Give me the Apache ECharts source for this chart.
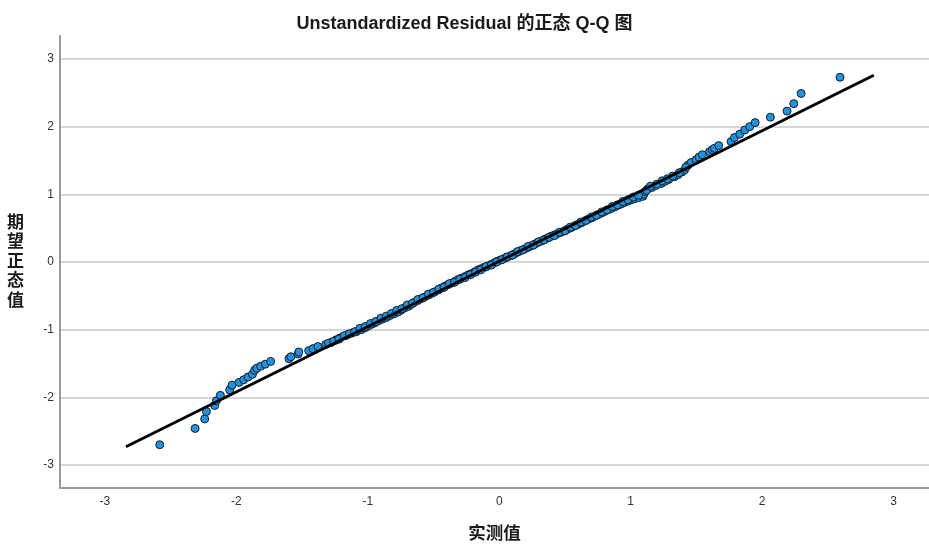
<!DOCTYPE html>
<html lang="zh">
<head>
  <meta charset="UTF-8" />
  <title>Unstandardized Residual 的正态 Q-Q 图</title>
  <script src="https://cdn.jsdelivr.net/npm/echarts@6.0.0/dist/echarts.min.js"></script>
  <style>
    html, body { margin: 0; padding: 0; background: #fff; }
    #chart { width: 929px; height: 545px; }
  </style>
</head>
<body>
  <div id="chart"></div>
  <script>
    // 观测值（实测值）与期望正态值，按排序读出
    const observed = [
      -2.583, -2.314, -2.241, -2.228, -2.165, -2.152, -2.122, -2.051, -2.033, -1.98,
      -1.944, -1.911, -1.878, -1.861, -1.845, -1.815, -1.78, -1.739, -1.60, -1.585,
      -1.531, -1.525, -1.45, -1.417, -1.379, -1.32, -1.28, -1.24, -1.21, -1.17,
      -1.15, -1.12, -1.087, -1.05, -1.024, -1.00, -0.97, -0.948, -0.92, -0.89,
      -0.859, -0.83, -0.80, -0.77, -0.745, -0.72, -0.69, -0.669, -0.65, -0.62,
      -0.60, -0.57, -0.54, -0.515, -0.49, -0.46, -0.44, -0.416, -0.39, -0.36,
      -0.335, -0.314, -0.29, -0.26, -0.235, -0.21, -0.185, -0.162, -0.14, -0.115,
      -0.09, -0.06, -0.036, -0.015, 0.01, 0.035, 0.06, 0.091, 0.115, 0.14,
      0.165, 0.19, 0.218, 0.245, 0.27, 0.295, 0.32, 0.345, 0.37, 0.395,
      0.42, 0.445, 0.471, 0.50, 0.525, 0.55, 0.575, 0.598, 0.625, 0.65,
      0.675, 0.70, 0.725, 0.75, 0.775, 0.80, 0.826, 0.852, 0.88, 0.905,
      0.93, 0.953, 0.98, 1.005, 1.03, 1.06, 1.093, 1.10, 1.11, 1.13,
      1.16, 1.19, 1.232, 1.26, 1.29, 1.333, 1.36, 1.39, 1.41, 1.435,
      1.46, 1.498, 1.52, 1.546, 1.60, 1.62, 1.637, 1.67, 1.764, 1.79,
      1.83, 1.868, 1.906, 1.947, 2.063, 2.19, 2.241, 2.297, 2.593,
      // 中段密集区的其余点
      -1.30, -1.26, -1.22, -1.18, -1.14, -1.10, -1.06, -1.02, -0.98, -0.94,
      -0.90, -0.86, -0.82, -0.78, -0.74, -0.70, -0.66, -0.62, -0.58, -0.54,
      -0.50, -0.46, -0.42, -0.38, -0.34, -0.30, -0.26, -0.22, -0.18, -0.14,
      -0.10, -0.06, -0.02, 0.02, 0.06, 0.10, 0.14, 0.18, 0.22, 0.26,
      0.30, 0.34, 0.38, 0.42, 0.46, 0.50, 0.54, 0.58, 0.62, 0.66,
      0.70, 0.74, 0.78, 0.82, 0.86, 0.90, 0.94, 0.98, 1.02, 1.06,
      1.12, 1.15, 1.20, 1.24, 1.28, 1.32, 1.37, 1.42
    ];
    const expected = [
      -2.70, -2.46, -2.32, -2.21, -2.12, -2.05, -1.97, -1.89, -1.82, -1.78,
      -1.74, -1.70, -1.66, -1.60, -1.57, -1.54, -1.51, -1.47, -1.43, -1.40,
      -1.36, -1.33, -1.31, -1.28, -1.25, -1.22, -1.19, -1.15, -1.12, -1.09,
      -1.07, -1.05, -1.03, -1.00, -0.975, -0.95, -0.92, -0.90, -0.87, -0.845,
      -0.82, -0.79, -0.765, -0.74, -0.71, -0.68, -0.655, -0.625, -0.60, -0.57,
      -0.545, -0.52, -0.49, -0.465, -0.44, -0.41, -0.385, -0.36, -0.335, -0.31,
      -0.285, -0.26, -0.24, -0.215, -0.19, -0.17, -0.145, -0.12, -0.10, -0.08,
      -0.06, -0.035, -0.01, 0.01, 0.03, 0.05, 0.07, 0.095, 0.12, 0.145,
      0.17, 0.19, 0.215, 0.24, 0.265, 0.29, 0.31, 0.335, 0.355, 0.38,
      0.40, 0.42, 0.44, 0.465, 0.49, 0.51, 0.535, 0.555, 0.58, 0.605,
      0.63, 0.65, 0.675, 0.70, 0.72, 0.745, 0.77, 0.79, 0.815, 0.84,
      0.86, 0.88, 0.90, 0.92, 0.935, 0.95, 0.97, 1.00, 1.04, 1.08,
      1.10, 1.13, 1.16, 1.19, 1.22, 1.26, 1.29, 1.33, 1.36, 1.43,
      1.47, 1.51, 1.55, 1.585, 1.63, 1.66, 1.68, 1.72, 1.78, 1.84,
      1.89, 1.95, 2.00, 2.06, 2.14, 2.23, 2.34, 2.49, 2.73,
      -1.20, -1.17, -1.14, -1.09, -1.06, -1.03, -0.98, -0.955, -0.91, -0.88,
      -0.83, -0.80, -0.76, -0.715, -0.69, -0.635, -0.61, -0.555, -0.53, -0.475,
      -0.45, -0.40, -0.375, -0.32, -0.30, -0.255, -0.23, -0.19, -0.15, -0.115,
      -0.07, -0.045, 0.00, 0.035, 0.075, 0.10, 0.155, 0.18, 0.23, 0.25,
      0.30, 0.325, 0.365, 0.39, 0.44, 0.46, 0.515, 0.54, 0.59, 0.615,
      0.665, 0.69, 0.74, 0.77, 0.82, 0.845, 0.895, 0.92, 0.96, 0.985,
      1.06, 1.12, 1.15, 1.20, 1.23, 1.27, 1.32, 1.40
    ];
    // 参考线两端
    const lineX = [-2.84, 2.85];
    const lineY = [-2.73, 2.76];
    const tickValues = [-3, -2, -1, 0, 1, 2, 3];

    const font = "'Liberation Sans', Arial, 'Noto Sans CJK SC', sans-serif";
    const chart = echarts.init(document.getElementById('chart'));

    chart.setOption({
      animation: false,
      backgroundColor: '#fff',
      title: {
        text: 'Unstandardized Residual 的正态 Q-Q 图',
        left: 'center',
        top: 10,
        textStyle: { fontFamily: font, fontSize: 18, fontWeight: 'bold', color: '#1a1a1a' }
      },
      grid: { left: 60, right: 0, top: 36, bottom: 57, outerBoundsMode: 'none' },
      xAxis: {
        type: 'value',
        min: -3.342,
        max: 3.27,
        name: '实测值',
        nameLocation: 'middle',
        nameGap: 37,
        nameTextStyle: { fontFamily: font, fontSize: 17.5, fontWeight: 'bold', color: '#1a1a1a' },
        axisLine: { onZero: false, lineStyle: { color: '#9a9a9a', width: 2 } },
        axisTick: { show: false, customValues: tickValues },
        axisLabel: { customValues: tickValues, margin: 8, fontFamily: font, fontSize: 12, color: '#333' },
        splitLine: { show: false }
      },
      yAxis: {
        type: 'value',
        min: -3.34,
        max: 3.34,
        name: '期\n望\n正\n态\n值',
        nameLocation: 'middle',
        nameRotate: 0,
        nameGap: 36,
        nameTextStyle: { fontFamily: font, fontSize: 17, fontWeight: 'bold', color: '#1a1a1a', lineHeight: 19.5 },
        axisLine: { show: true, onZero: false, lineStyle: { color: '#9a9a9a', width: 2 } },
        axisTick: { show: false, customValues: tickValues },
        axisLabel: { customValues: tickValues, margin: 6, fontFamily: font, fontSize: 12, color: '#333' },
        splitLine: { show: true, lineStyle: { color: '#c8c8c8', width: 1.5 } }
      },
      series: [
        {
          type: 'scatter',
          data: observed.map((x, i) => [x, expected[i]]),
          symbolSize: 8,
          itemStyle: { color: '#2491dc', borderColor: '#14202c', borderWidth: 1, opacity: 1 },
          z: 2
        },
        {
          type: 'line',
          data: lineX.map((x, i) => [x, lineY[i]]),
          symbol: 'none',
          lineStyle: { color: '#000', width: 3 },
          z: 3
        }
      ]
    });
  </script>
</body>
</html>
